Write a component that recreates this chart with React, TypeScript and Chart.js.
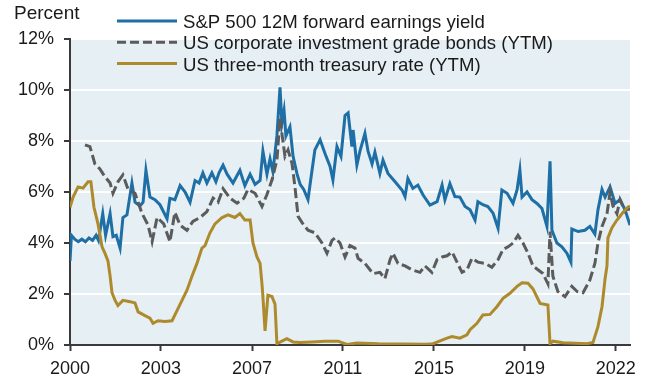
import { useEffect, useRef } from "react";
import { Chart, registerables } from "chart.js";

Chart.register(...registerables);

const X_MIN = 2000;
const X_MAX = 2023.6;
const Y_MAX = 12;
const Y_STEP = 2;
const X_TICK_POS = [2000, 2003.83, 2007.67, 2011.5, 2015.34, 2019.17, 2023.0];
const X_TICK_LABELS = ["2000", "2003", "2007", "2011", "2015", "2019", "2022"];
const Y_TITLE = "Percent";
const SERIES_NAMES = [
  "S&P 500 12M forward earnings yield",
  "US corporate investment grade bonds (YTM)",
  "US three-month treasury rate (YTM)",
];

// [decimal year, percent]
const SP500_YIELD: [number, number][] = [
  [2000.0, 3.3], [2000.06, 4.3], [2000.2, 4.15], [2000.35, 4.05], [2000.5, 4.15], [2000.65, 4.05],
  [2000.8, 4.2], [2000.95, 4.1], [2001.1, 4.3], [2001.2, 4.1], [2001.38, 5.15], [2001.5, 4.3],
  [2001.69, 5.15], [2001.81, 4.25], [2001.95, 4.3], [2002.11, 3.8], [2002.23, 5.0], [2002.4, 5.1],
  [2002.61, 6.35], [2002.74, 5.6], [2002.95, 5.45], [2003.08, 5.6], [2003.2, 6.85], [2003.37, 5.8],
  [2003.58, 5.7], [2003.79, 5.5], [2004.09, 4.95], [2004.21, 5.75], [2004.42, 5.7], [2004.64, 6.25],
  [2004.85, 6.0], [2005.06, 5.6], [2005.27, 6.45], [2005.44, 6.35], [2005.6, 6.75], [2005.77, 6.35],
  [2005.98, 6.75], [2006.15, 6.4], [2006.28, 6.75], [2006.45, 7.05], [2006.62, 6.7], [2006.87, 6.35],
  [2007.16, 6.85], [2007.37, 6.25], [2007.59, 6.7], [2007.8, 6.3], [2008.01, 6.45], [2008.13, 7.6],
  [2008.3, 6.7], [2008.43, 7.3], [2008.55, 6.8], [2008.72, 8.2], [2008.85, 10.1], [2008.93, 8.7],
  [2009.02, 9.2], [2009.1, 8.2], [2009.27, 8.55], [2009.4, 7.4], [2009.57, 6.7], [2009.7, 6.3],
  [2009.85, 6.1], [2010.03, 5.7], [2010.2, 6.85], [2010.32, 7.65], [2010.54, 8.05], [2010.75, 7.5],
  [2010.96, 7.0], [2011.08, 6.47], [2011.25, 7.78], [2011.42, 7.4], [2011.59, 9.0], [2011.72, 9.1],
  [2011.88, 7.78], [2011.93, 8.43], [2012.09, 7.06], [2012.22, 7.6], [2012.43, 8.3], [2012.56, 7.6],
  [2012.73, 7.1], [2012.85, 7.56], [2013.06, 6.73], [2013.19, 7.25], [2013.4, 6.73], [2013.7, 6.4],
  [2013.99, 6.08], [2014.12, 5.82], [2014.24, 6.53], [2014.45, 6.14], [2014.66, 6.27], [2014.88, 5.88],
  [2015.17, 5.49], [2015.47, 5.62], [2015.68, 6.27], [2015.8, 5.69], [2016.01, 6.33], [2016.22, 5.82],
  [2016.43, 5.8], [2016.65, 5.43], [2016.86, 5.3], [2017.07, 4.9], [2017.19, 5.62], [2017.4, 5.5],
  [2017.61, 5.43], [2017.83, 5.17], [2018.04, 4.58], [2018.2, 6.08], [2018.42, 5.95], [2018.67, 5.56],
  [2018.84, 6.08], [2018.96, 6.86], [2019.05, 5.8], [2019.26, 6.0], [2019.47, 5.7], [2019.68, 5.55],
  [2019.89, 5.35], [2020.1, 4.65], [2020.23, 7.2], [2020.31, 4.5], [2020.52, 4.0], [2020.73, 3.85],
  [2020.94, 3.6], [2021.11, 3.25], [2021.15, 4.55], [2021.41, 4.45], [2021.7, 4.5], [2021.91, 4.65],
  [2022.12, 4.35], [2022.25, 5.3], [2022.42, 6.1], [2022.55, 5.8], [2022.76, 6.2], [2022.97, 5.55],
  [2023.18, 5.7], [2023.39, 5.3], [2023.6, 4.7],
];

const CORP_IG_YTM: [number, number][] = [
  [2000.63, 7.85], [2000.84, 7.78], [2001.05, 7.1], [2001.26, 6.9], [2001.47, 6.6], [2001.69, 6.35],
  [2001.81, 5.95], [2002.02, 6.4], [2002.23, 6.67], [2002.45, 6.1], [2002.74, 5.95], [2003.03, 5.17],
  [2003.29, 4.7], [2003.46, 4.05], [2003.67, 5.0], [2003.95, 4.75], [2004.21, 4.05], [2004.42, 5.2],
  [2004.64, 4.7], [2004.93, 4.5], [2005.18, 4.85], [2005.48, 5.0], [2005.77, 5.23], [2006.03, 5.76],
  [2006.24, 5.6], [2006.45, 6.13], [2006.74, 5.76], [2007.04, 5.56], [2007.33, 5.76], [2007.5, 6.1],
  [2007.8, 5.95], [2008.09, 5.43], [2008.3, 5.9], [2008.51, 6.47], [2008.72, 7.25], [2008.85, 8.9],
  [2008.93, 8.3], [2009.06, 7.4], [2009.19, 7.65], [2009.36, 7.1], [2009.48, 6.2], [2009.61, 5.05],
  [2009.78, 4.8], [2010.03, 4.5], [2010.32, 4.4], [2010.62, 4.0], [2010.83, 3.6], [2011.04, 4.1],
  [2011.17, 4.2], [2011.38, 4.0], [2011.59, 3.45], [2011.8, 3.9], [2012.01, 3.8], [2012.14, 3.4],
  [2012.43, 3.2], [2012.77, 2.8], [2013.06, 2.85], [2013.27, 2.6], [2013.49, 3.35], [2013.61, 3.6],
  [2013.82, 3.2], [2014.12, 3.1], [2014.41, 2.95], [2014.75, 2.85], [2014.96, 3.1], [2015.25, 2.85],
  [2015.47, 3.35], [2015.68, 3.45], [2015.89, 3.5], [2016.1, 3.65], [2016.31, 3.25], [2016.52, 2.85],
  [2016.73, 2.95], [2016.94, 3.4], [2017.19, 3.25], [2017.49, 3.2], [2017.78, 3.05], [2018.04, 3.35],
  [2018.25, 3.75], [2018.46, 3.85], [2018.67, 4.0], [2018.88, 4.3], [2019.09, 4.0], [2019.3, 3.6],
  [2019.51, 3.1], [2019.72, 2.95], [2019.93, 2.8], [2020.14, 2.4], [2020.23, 4.45], [2020.35, 2.7],
  [2020.56, 2.1], [2020.86, 1.9], [2021.15, 2.3], [2021.37, 2.1], [2021.62, 2.05], [2021.91, 2.55],
  [2022.12, 3.2], [2022.25, 4.0], [2022.42, 4.65], [2022.63, 5.15], [2022.76, 6.0], [2022.88, 5.45],
  [2023.05, 5.15], [2023.18, 5.7], [2023.39, 5.25], [2023.51, 5.35], [2023.6, 5.3],
];

const TBILL_3M: [number, number][] = [
  [2000.0, 5.4], [2000.13, 5.8], [2000.34, 6.2], [2000.55, 6.15], [2000.76, 6.4], [2000.88, 6.4],
  [2001.01, 5.4], [2001.18, 4.75], [2001.35, 3.85], [2001.47, 3.6], [2001.6, 3.3], [2001.69, 2.7],
  [2001.77, 2.05], [2001.9, 1.75], [2002.02, 1.55], [2002.23, 1.75], [2002.53, 1.7], [2002.74, 1.65],
  [2002.87, 1.3], [2003.16, 1.15], [2003.37, 1.05], [2003.5, 0.85], [2003.71, 0.95], [2004.0, 0.92],
  [2004.3, 0.95], [2004.51, 1.35], [2004.72, 1.75], [2004.93, 2.15], [2005.14, 2.7], [2005.35, 3.2],
  [2005.56, 3.8], [2005.69, 3.9], [2005.9, 4.4], [2006.11, 4.75], [2006.41, 5.0], [2006.66, 5.1],
  [2006.95, 5.0], [2007.16, 5.15], [2007.37, 4.9], [2007.59, 4.9], [2007.71, 4.0], [2007.88, 3.45],
  [2008.01, 3.2], [2008.09, 2.4], [2008.13, 1.9], [2008.22, 0.55], [2008.34, 1.95], [2008.51, 1.9],
  [2008.64, 1.6], [2008.72, 0.05], [2008.93, 0.15], [2009.14, 0.25], [2009.4, 0.12], [2009.69, 0.1],
  [2010.2, 0.12], [2010.75, 0.15], [2011.3, 0.15], [2011.67, 0.02], [2012.09, 0.08], [2013.0, 0.05],
  [2014.0, 0.04], [2015.0, 0.03], [2015.3, 0.05], [2015.89, 0.27], [2016.1, 0.33], [2016.43, 0.27],
  [2016.73, 0.4], [2016.86, 0.6], [2017.15, 0.85], [2017.4, 1.18], [2017.7, 1.2], [2017.99, 1.5],
  [2018.25, 1.83], [2018.54, 2.03], [2018.84, 2.3], [2019.05, 2.44], [2019.3, 2.42], [2019.51, 2.2],
  [2019.81, 1.63], [2020.14, 1.57], [2020.23, 0.05], [2020.35, 0.15], [2020.78, 0.09], [2021.79, 0.05],
  [2022.04, 0.1], [2022.25, 0.72], [2022.42, 1.5], [2022.55, 2.6], [2022.63, 3.1], [2022.67, 4.2],
  [2022.84, 4.6], [2023.05, 4.9], [2023.18, 5.05], [2023.3, 5.2], [2023.51, 5.4], [2023.6, 5.45],
];

const BLUE = "#1d6fa6";
const GRAY = "#5b5b5b";
const GOLD = "#ad8a2c";
const PLOT_BG = "#e6eff3";
const AXIS = "#3a3a3a";
const TEXT = "#1a1a1a";
const FONT_FAMILY = '"Liberation Sans", Arial, Helvetica, sans-serif';

const toPts = (arr: [number, number][]) => arr.map(([x, y]) => ({ x, y }));

export default function App() {
  const ref = useRef<HTMLCanvasElement | null>(null);

  useEffect(() => {
    if (!ref.current) return;

    const bgPlugin = {
      id: "plotBg",
      beforeDraw(chart: any) {
        const { ctx, chartArea } = chart;
        ctx.save();
        ctx.fillStyle = PLOT_BG;
        ctx.fillRect(chartArea.left, chartArea.top, chartArea.right - chartArea.left, chartArea.bottom - chartArea.top);
        ctx.restore();
      },
    };

    const legendPlugin = {
      id: "customLegend",
      afterDraw(chart: any) {
        const ctx = chart.ctx;
        ctx.save();
        ctx.textBaseline = "alphabetic";
        ctx.textAlign = "left";
        ctx.fillStyle = TEXT;
        ctx.font = `19px ${FONT_FAMILY}`;
        ctx.fillText(Y_TITLE, 14, 19);
        ctx.font = `18.6px ${FONT_FAMILY}`;
        const colors = [BLUE, GRAY, GOLD];
        const dashes = [[], [9, 4], []];
        const baseY = [28, 49.3, 70.5];
        for (let i = 0; i < SERIES_NAMES.length; i++) {
          const ly = baseY[i] - 7;
          ctx.beginPath();
          ctx.strokeStyle = colors[i];
          ctx.lineWidth = 3;
          ctx.setLineDash(dashes[i]);
          ctx.moveTo(117, ly);
          ctx.lineTo(177, ly);
          ctx.stroke();
          ctx.setLineDash([]);
          ctx.fillStyle = TEXT;
          ctx.fillText(SERIES_NAMES[i], 183, baseY[i]);
        }
        ctx.restore();
      },
    };

    const chart = new Chart(ref.current, {
      type: "line",
      data: {
        datasets: [
          {
            label: SERIES_NAMES[0],
            data: toPts(SP500_YIELD),
            borderColor: BLUE,
            borderWidth: 3,
            pointRadius: 0,
            tension: 0,
            order: 2,
          },
          {
            label: SERIES_NAMES[1],
            data: toPts(CORP_IG_YTM),
            borderColor: GRAY,
            borderWidth: 3,
            borderDash: [10, 4],
            pointRadius: 0,
            tension: 0,
            order: 1,
          },
          {
            label: SERIES_NAMES[2],
            data: toPts(TBILL_3M),
            borderColor: GOLD,
            borderWidth: 3,
            pointRadius: 0,
            tension: 0,
            order: 0,
          },
        ],
      },
      options: {
        animation: false,
        responsive: false,
        maintainAspectRatio: false,
        layout: { padding: { top: 39, right: 24, left: 0, bottom: 0 } },
        plugins: { legend: { display: false }, tooltip: { enabled: false } },
        scales: {
          x: {
            type: "linear",
            min: X_MIN,
            max: X_MAX,
            afterBuildTicks: (scale: any) => {
              scale.ticks = X_TICK_POS.map((v) => ({ value: v }));
            },
            afterFit: (scale: any) => {
              scale.height = 31;
              scale.paddingLeft = 0;
              scale.paddingRight = 0;
            },
            ticks: {
              autoSkip: false,
              maxRotation: 0,
              minRotation: 0,
              padding: 7,
              color: TEXT,
              font: { size: 18, family: FONT_FAMILY },
              callback: (_v: any, i: number) => X_TICK_LABELS[i],
            },
            grid: {
              drawOnChartArea: false,
              drawTicks: true,
              tickLength: 6,
              tickColor: AXIS,
              tickWidth: 2,
            },
            border: { display: true, color: AXIS, width: 2 },
          },
          y: {
            type: "linear",
            min: 0,
            max: Y_MAX,
            afterFit: (scale: any) => {
              scale.width = 70;
              scale.paddingTop = 0;
              scale.paddingBottom = 0;
            },
            ticks: {
              stepSize: Y_STEP,
              padding: 10,
              color: TEXT,
              font: { size: 18, family: FONT_FAMILY },
              callback: (v: any) => `${v}%`,
            },
            grid: {
              color: (c: any) => (c.tick && c.tick.value === 0 ? "rgba(0,0,0,0)" : "#ffffff"),
              lineWidth: 2,
              drawTicks: true,
              tickLength: 6,
              tickColor: AXIS,
              tickWidth: 2,
            },
            border: { display: true, color: AXIS, width: 2 },
          },
        },
      },
      plugins: [bgPlugin, legendPlugin],
    });

    return () => chart.destroy();
  }, []);

  return (
    <div style={{ position: "fixed", left: 0, top: 0, width: 654, height: 376, background: "#ffffff" }}>
      <canvas ref={ref} width={654} height={376} style={{ display: "block", width: 654, height: 376 }} />
    </div>
  );
}
